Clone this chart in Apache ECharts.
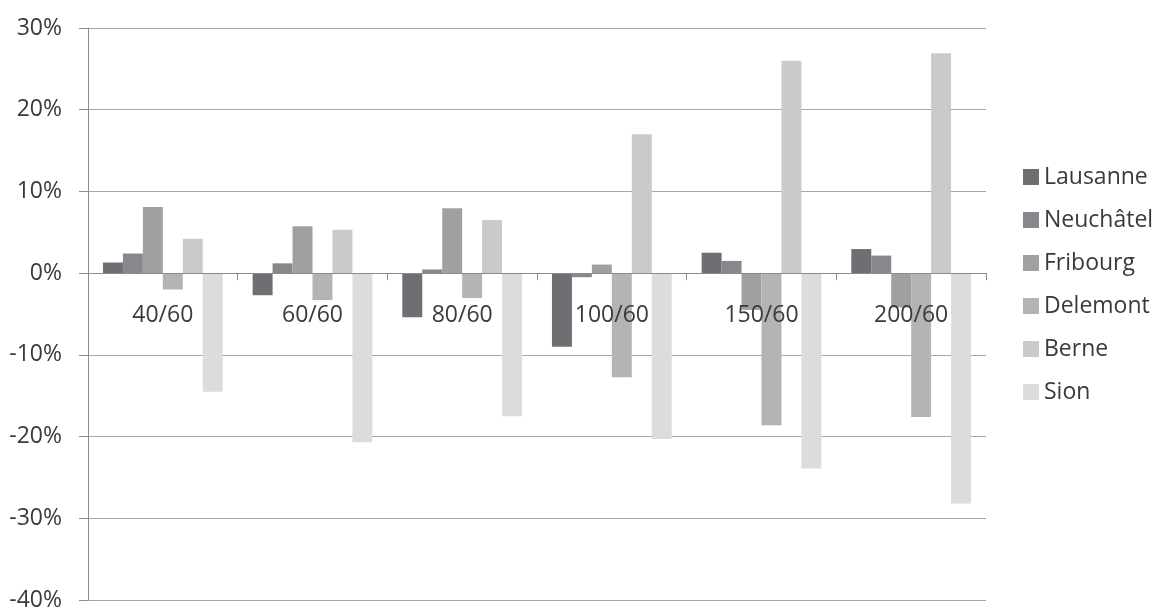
<!DOCTYPE html>
<html>
<head>
<meta charset="utf-8">
<script src="https://cdn.jsdelivr.net/npm/echarts@6/dist/echarts.min.js"></script>
<style>
  html, body { margin: 0; padding: 0; background: #ffffff; }
  #chart { width: 1156px; height: 610px; }
</style>
</head>
<body>
<div id="chart"></div>
<script>
const categories = ['40/60', '60/60', '80/60', '100/60', '150/60', '200/60'];
const seriesNames = ['Lausanne', 'Neuchâtel', 'Fribourg', 'Delemont', 'Berne', 'Sion'];
const lausanne  = [1.3, -2.7, -5.4, -9.0, 2.5, 2.95];
const neuchatel = [2.4, 1.2, 0.45, -0.5, 1.5, 2.15];
const fribourg  = [8.1, 5.75, 7.95, 1.05, -4.5, -4.2];
const delemont  = [-2.0, -3.3, -3.05, -12.75, -18.6, -17.6];
const berne     = [4.2, 5.3, 6.5, 17.0, 26.0, 26.9];
const sion      = [-14.5, -20.7, -17.5, -20.3, -23.9, -28.2];
const seriesValues = [lausanne, neuchatel, fribourg, delemont, berne, sion];
const yTicks = { min: -40, max: 30, interval: 10 };
const colors = ['#6f6f73', '#88888c', '#a0a0a3', '#b4b4b7', '#cacacc', '#dcdcdd'];

const FONT = '"Open Sans", "Liberation Sans", sans-serif';
const TEXT = '#3a3a3a';

const chart = echarts.init(document.getElementById('chart'), null, { renderer: 'canvas' });
chart.setOption({
  animation: false,
  backgroundColor: '#ffffff',
  color: colors,
  grid: { left: 88, right: 170, top: 28, bottom: 10, containLabel: false, outerBoundsMode: 'none' },
  legend: {
    orient: 'vertical',
    left: 1023,
    top: 164,
    padding: 0,
    itemWidth: 16,
    itemHeight: 16,
    itemGap: 17,
    icon: 'rect',
    data: seriesNames,
    textStyle: { fontFamily: FONT, fontSize: 23, color: TEXT, lineHeight: 26, padding: [0, 0, 0, 0] },
    selectedMode: false
  },
  xAxis: {
    type: 'category',
    data: categories,
    position: 'bottom',
    z: 10,
    offset: 0,
    axisLine: { show: true, onZero: false, lineStyle: { color: '#8c8c8c', width: 1 } },
    axisTick: { show: true, length: 7, lineStyle: { color: '#8c8c8c' } },
    axisLabel: { fontFamily: FONT, fontSize: 23, color: TEXT, margin: 31 },
    splitLine: { show: false }
  },
  yAxis: {
    type: 'value',
    min: yTicks.min,
    max: yTicks.max,
    interval: yTicks.interval,
    axisLine: { show: true, lineStyle: { color: '#8c8c8c', width: 1 } },
    axisTick: { show: true, length: 9, lineStyle: { color: '#8c8c8c' } },
    axisLabel: { fontFamily: FONT, fontSize: 23, color: TEXT, margin: 26, formatter: '{value}%' },
    splitLine: { show: true, lineStyle: { color: '#a6a6a6', width: 1 } }
  },
  series: seriesNames.map((name, i) => ({
    name: name,
    type: 'bar',
    data: seriesValues[i],
    barGap: '0%',
    barCategoryGap: '20%',
    itemStyle: { color: colors[i] }
  }))
});

// Move the category axis up to the zero line, using the value axis scale.
const zeroPx = chart.convertToPixel({ yAxisIndex: 0 }, 0);
const bottomPx = chart.convertToPixel({ yAxisIndex: 0 }, yTicks.min);
chart.setOption({ xAxis: { offset: zeroPx - bottomPx } });
</script>
</body>
</html>
